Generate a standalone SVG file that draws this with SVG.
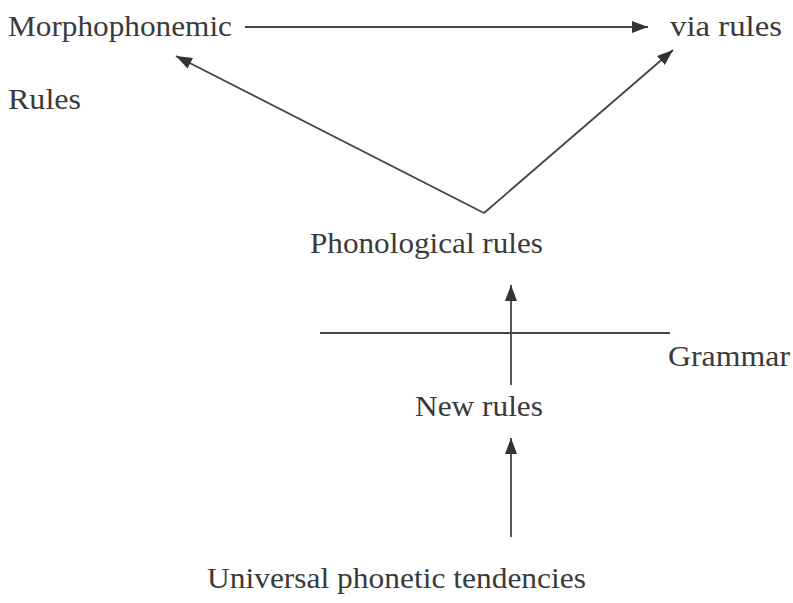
<svg xmlns="http://www.w3.org/2000/svg" width="793" height="603" viewBox="0 0 793 603">
<defs>
<style>
.t{font-family:'Liberation Serif', 'Times New Roman', serif;font-size:29px;fill:#3a3a3a}
.c{stroke:#444;stroke-width:1.8;fill:none}
</style>
<marker id="ah" viewBox="0 0 16 12" refX="16" refY="6" markerWidth="16" markerHeight="12" markerUnits="userSpaceOnUse" orient="auto"><path d="M0,0 L16,6 L0,12 z" fill="#333"/></marker>
</defs>
<rect width="793" height="603" fill="#fff"/>
<g id="n-morph"><text class="t" x="8" y="36" textLength="224" lengthAdjust="spacingAndGlyphs">Morphophonemic</text></g>
<g id="n-rules"><text class="t" x="8" y="109" textLength="73" lengthAdjust="spacingAndGlyphs">Rules</text></g>
<g id="n-via"><text class="t" x="670" y="36" textLength="112" lengthAdjust="spacingAndGlyphs">via rules</text></g>
<g id="n-phon"><text class="t" x="310" y="253" textLength="233" lengthAdjust="spacingAndGlyphs">Phonological rules</text></g>
<g id="n-grammar"><text class="t" x="668" y="366" textLength="122" lengthAdjust="spacingAndGlyphs">Grammar</text></g>
<g id="n-new"><text class="t" x="415" y="416" textLength="128" lengthAdjust="spacingAndGlyphs">New rules</text></g>
<g id="n-univ"><text class="t" x="207" y="588" textLength="379" lengthAdjust="spacingAndGlyphs">Universal phonetic tendencies</text></g>
<g id="connectors">
<line class="c" x1="245" y1="27" x2="648" y2="27" marker-end="url(#ah)"/>
<line class="c" x1="484" y1="213" x2="176" y2="56" marker-end="url(#ah)"/>
<line class="c" x1="484" y1="213" x2="673" y2="50" marker-end="url(#ah)"/>
<line class="c" x1="320" y1="333" x2="670" y2="333"/>
<line class="c" x1="511" y1="385" x2="511" y2="285" marker-end="url(#ah)"/>
<line class="c" x1="511" y1="537" x2="511" y2="438" marker-end="url(#ah)"/>
</g>
</svg>
